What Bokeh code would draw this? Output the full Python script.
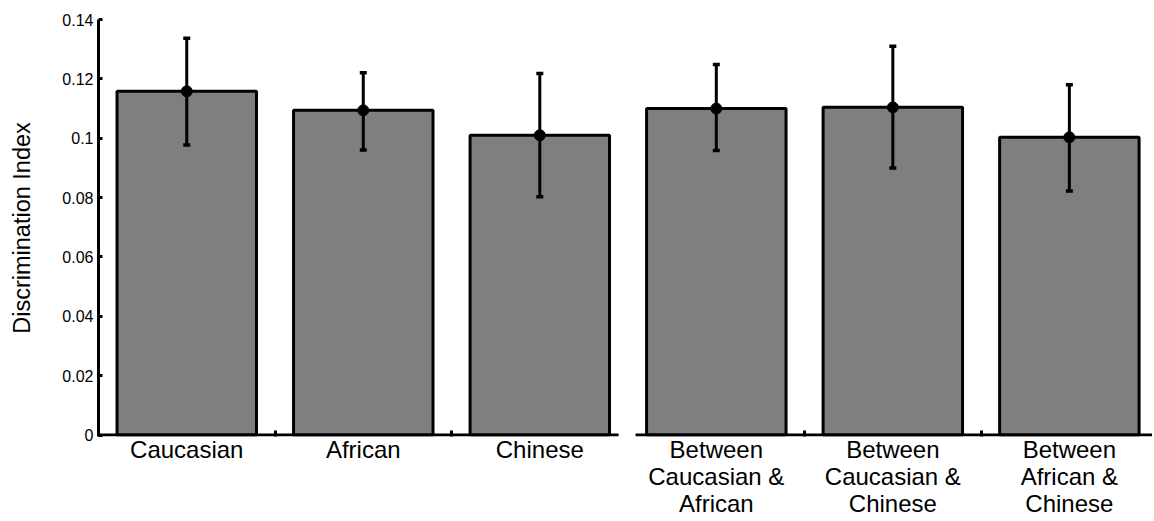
from bokeh.plotting import figure
from bokeh.models import FixedTicker, Range1d, ColumnDataSource, Whisker, TeeHead
from bokeh.embed import file_html
from bokeh.resources import INLINE

# ---- data ----
categories = ["Caucasian", "African", "Chinese",
              "Between\nCaucasian &\nAfrican",
              "Between\nCaucasian &\nChinese",
              "Between\nAfrican &\nChinese"]
means = [0.1158, 0.1094, 0.1010, 0.1100, 0.1104, 0.1003]
lower = [0.0977, 0.0960, 0.0803, 0.0959, 0.0900, 0.0822]
upper = [0.1337, 0.1221, 0.1218, 0.1248, 0.1310, 0.1180]
y_ticks = [0, 0.02, 0.04, 0.06, 0.08, 0.1, 0.12, 0.14]
y_tick_labels = ["0", "0.02", "0.04", "0.06", "0.08", "0.1", "0.12", "0.14"]
y_label = "Discrimination Index"

positions = list(range(1, len(categories) + 1))
separators = [1.5, 2.5, 4.5, 5.5]

FONT = "Liberation Sans"
GRAY = "#7f7f7f"
X_START, X_END = 0.5, 6.471
BREAK_LEFT, BREAK_RIGHT = 3.446, 3.5425

src = ColumnDataSource(dict(x=positions, top=means, lower=lower, upper=upper))

p = figure(width=1152, height=520, output_backend="svg", toolbar_location=None,
           x_range=Range1d(X_START, X_END), y_range=Range1d(-0.0005, 0.14),
           min_border_left=98, min_border_right=0, min_border_top=19, min_border_bottom=84)
p.outline_line_color = None
p.grid.visible = False
p.background_fill_color = "white"
p.border_fill_color = "white"

# bars
p.vbar(x="x", top="top", bottom=0, width=0.79, source=src,
       fill_color=GRAY, line_color="black", line_width=3)

# broken x-axis line (two groups)
p.segment(x0=[X_START, BREAK_RIGHT], y0=[0, 0], x1=[BREAK_LEFT, X_END], y1=[0, 0],
          line_color="black", line_width=3)

# error bars
w = Whisker(base="x", lower="lower", upper="upper", source=src, level="overlay",
            line_color="black", line_width=3,
            upper_head=TeeHead(size=7, line_width=3.5, line_color="black"),
            lower_head=TeeHead(size=7, line_width=3.5, line_color="black"))
p.add_layout(w)
p.scatter(x="x", y="top", source=src, size=11, color="black")

# y axis
ya = p.yaxis[0]
ya.ticker = FixedTicker(ticks=y_ticks)
ya.major_label_overrides = {t: l for t, l in zip(y_ticks, y_tick_labels)}
ya.axis_line_width = 3
ya.axis_line_color = "black"
ya.major_tick_in = 4
ya.major_tick_out = 0
ya.major_tick_line_width = 3
ya.minor_tick_line_color = None
ya.major_label_text_font = FONT
ya.major_label_text_font_size = "16px"
ya.major_label_text_color = "black"
ya.major_label_standoff = 5
ya.axis_label = y_label
ya.axis_label_text_font = FONT
ya.axis_label_text_font_size = "23.5px"
ya.axis_label_text_font_style = "normal"
ya.axis_label_text_color = "black"
ya.axis_label_standoff = 24

# x axis
xa = p.xaxis[0]
xa.ticker = FixedTicker(ticks=positions, minor_ticks=separators)
xa.major_label_overrides = {t: l for t, l in zip(positions, categories)}
xa.axis_line_color = None
xa.major_tick_line_color = None
xa.minor_tick_in = 6
xa.minor_tick_out = 0
xa.minor_tick_line_width = 3
xa.minor_tick_line_color = "black"
xa.major_label_text_font = FONT
xa.major_label_text_font_size = "24px"
xa.major_label_text_color = "black"
xa.major_label_text_line_height = 1.0
xa.major_label_standoff = -7

open("out.html", "w").write(file_html(p, INLINE))
